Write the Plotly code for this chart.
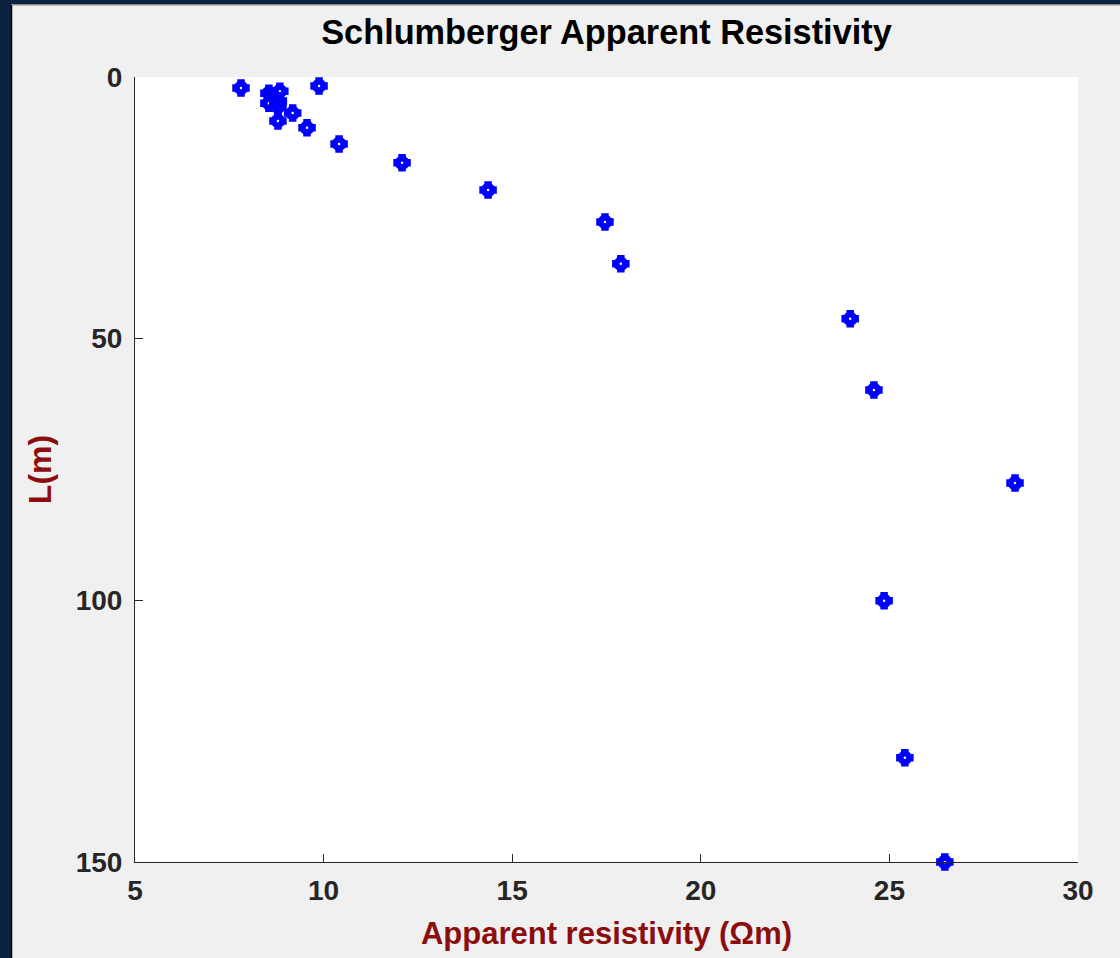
import plotly.graph_objects as go

# ---- data ----
resistivity = [7.81, 9.88, 8.84, 8.55, 8.66, 8.71, 8.80, 8.55, 8.79, 9.18, 8.79, 9.56, 10.41,
               12.08, 14.36, 17.46, 17.88, 23.96, 24.59, 28.33, 24.86, 25.41, 26.47]
spacing = [2.1, 1.7, 2.7, 3.1, 3.6, 4.0, 4.6, 5.0, 5.7, 6.9, 8.4, 9.7, 12.8,
           16.4, 21.6, 27.7, 35.7, 46.2, 59.8, 77.6, 100.1, 130.1, 150.0]
x_ticks = [5, 10, 15, 20, 25, 30]
y_ticks = [0, 50, 100, 150]

title_text = "Schlumberger Apparent Resistivity"
x_label = "Apparent resistivity (Ωm)"
y_label = "L(m)"

# ---- layout geometry (pixels) ----
W, H = 1120, 958
L, R, T, B = 135, 42, 77, 96
pw, ph = W - L - R, H - T - B

def px(xp):
    return (xp - L) / pw

def py(yp):
    return (H - B - yp) / ph

AX = "#262626"
RED = "#8c0d0d"
BLUE = "#0000ff"
FONT = "Liberation Sans, Arial, Helvetica, sans-serif"

fig = go.Figure()
# clover-like marker: outlined plus underneath a thick ring with a pin-hole centre
fig.add_trace(go.Scatter(
    x=resistivity, y=spacing, mode="markers",
    marker=dict(symbol="cross-open", size=12.5, color=BLUE, line=dict(color=BLUE, width=2.5)),
    showlegend=False, cliponaxis=False, hoverinfo="skip",
))
fig.add_trace(go.Scatter(
    x=resistivity, y=spacing, mode="markers",
    marker=dict(symbol="circle-open", size=8.5, color=BLUE, line=dict(color=BLUE, width=6)),
    showlegend=False, cliponaxis=False,
))

shapes = [
    # dark navy frame (left and top)
    dict(type="rect", xref="paper", yref="paper", x0=px(-20), x1=px(11),
         y0=py(H + 20), y1=py(-20), fillcolor="#0a2240", line_width=0, layer="above"),
    dict(type="rect", xref="paper", yref="paper", x0=px(-20), x1=px(W + 20),
         y0=py(4), y1=py(-20), fillcolor="#0a2240", line_width=0, layer="above"),
    dict(type="line", xref="paper", yref="paper", x0=px(11.5), x1=px(11.5),
         y0=py(H + 20), y1=py(4.5), line=dict(color="#000000", width=1.5), layer="above"),
    dict(type="line", xref="paper", yref="paper", x0=px(11.5), x1=px(W + 20),
         y0=py(4.8), y1=py(4.8), line=dict(color="#8a8a8a", width=1.5), layer="above"),
]

fig.update_layout(
    width=W, height=H, autosize=False,
    margin=dict(l=L, r=R, t=T, b=B, pad=0),
    paper_bgcolor="#f0f0f0", plot_bgcolor="#ffffff",
    font=dict(family=FONT, color=AX),
    title=dict(text=title_text, x=0.5, xref="paper", xanchor="center",
               y=1 - 32 / H, yanchor="middle",
               font=dict(family=FONT, size=34.3, color="#000000", weight="bold")),
    shapes=shapes,
)

fig.update_xaxes(
    range=[5, 30], tickvals=x_ticks, ticktext=[str(v) for v in x_ticks],
    showgrid=False, zeroline=False, showline=True, linecolor=AX, linewidth=1,
    ticks="inside", ticklen=8, tickcolor=AX, tickwidth=1, mirror=False,
    tickfont=dict(family=FONT, size=28, color=AX, weight="bold"),
    ticklabelstandoff=3,
    title=dict(text=x_label, standoff=17,
               font=dict(family=FONT, size=31, color=RED, weight="bold")),
    automargin=False,
)
fig.update_yaxes(
    range=[150, 0], tickvals=y_ticks, ticktext=[str(v) for v in y_ticks],
    showgrid=False, zeroline=False, showline=True, linecolor=AX, linewidth=1,
    ticks="inside", ticklen=8, tickcolor=AX, tickwidth=1, mirror=False,
    tickfont=dict(family=FONT, size=28, color=AX, weight="bold"),
    ticklabelstandoff=6,
    title=dict(text=y_label, standoff=14,
               font=dict(family=FONT, size=32, color=RED, weight="bold")),
    automargin=False,
)

fig.write_html("out.html", config={"displayModeBar": False},
               post_script="document.body.style.margin='0';")
